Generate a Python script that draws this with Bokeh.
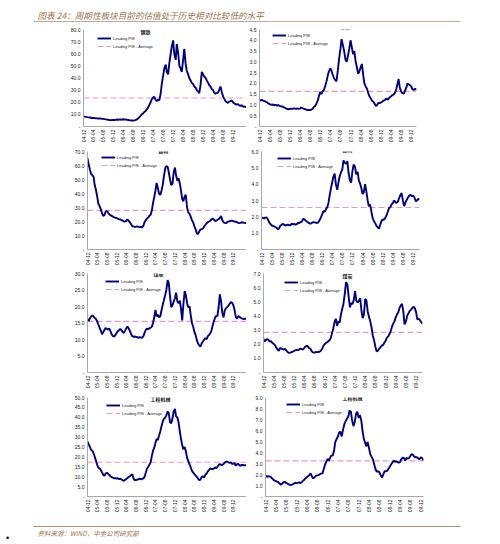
import math
import pandas as pd
from bokeh.plotting import figure
from bokeh.layouts import column, row
from bokeh.models import (Range1d, FixedTicker, DatetimeTickFormatter, NumeralTickFormatter,
                          Legend, LegendItem, Label, BoxAnnotation)
from bokeh.embed import file_html
from bokeh.resources import INLINE

# ---------------------------------------------------------------- data
header_text = "图表 24：周期性板块目前的估值处于历史相对比较低的水平"
source_text = "资料来源：WIND，中金公司研究部"
sector_names = ["钢铁", "建材", "煤炭", "工程机械"]
x_tick_labels = ["04-12", "05-04", "05-08", "05-12", "06-04", "06-08", "06-12", "07-04",
                 "07-08", "07-12", "08-04", "08-08", "08-12", "09-04", "09-08", "09-12"]
series_start = "2004-12-01"   # semi-monthly observations from here on

steel_pe = [8.3, 8.1, 7.9, 7.7, 7.5, 7.4, 7.2, 7.0, 7.0, 6.9, 6.8, 6.7, 6.6, 6.7, 6.5, 6.4, 6.3, 6.1, 5.9, 5.7, 5.6, 5.4, 5.3, 5.4,
            5.5, 5.4, 5.6, 5.8, 5.5, 5.9, 5.6, 5.8, 6.0, 5.7, 5.9, 5.6, 5.4, 5.2, 5.0, 4.9, 4.9, 5.1, 5.4, 5.9, 6.8, 7.8, 9.0, 10.2,
            11.0, 12.0, 13.0, 14.5, 16.0, 18.0, 20.0, 22.5, 24.0, 24.5, 22.0, 21.0, 22.0, 21.5, 27.0, 35.0, 42.0, 48.0, 51.0, 45.0, 43.0, 52.0, 60.0, 66.0,
            71.0, 60.0, 55.0, 68.0, 60.0, 50.0, 48.0, 45.0, 55.0, 64.0, 52.0, 46.0, 43.0, 40.0, 38.0, 36.0, 35.0, 33.0, 32.0, 30.0, 29.0, 27.5, 35.0, 45.0,
            43.0, 41.0, 40.0, 38.0, 36.0, 34.0, 33.0, 31.0, 30.0, 28.0, 27.0, 27.5, 28.0, 30.0, 33.0, 29.0, 25.0, 23.0, 21.0, 20.0, 19.5, 20.5, 21.0, 21.5,
            20.0, 19.0, 18.5, 18.0, 18.5, 17.5, 17.0, 17.5, 16.5, 16.5, 16.0, 16.5]
steel_pb = [1.20, 1.22, 1.23, 1.20, 1.18, 1.15, 1.12, 1.08, 1.04, 1.02, 1.00, 1.02, 0.98, 1.00, 0.97, 0.99, 0.96, 0.94, 0.93, 0.90, 0.87, 0.84, 0.81, 0.80,
            0.82, 0.83, 0.82, 0.84, 0.83, 0.82, 0.84, 0.82, 0.83, 0.88, 0.85, 0.83, 0.81, 0.78, 0.76, 0.77, 0.76, 0.78, 0.82, 0.90, 0.95, 1.05, 1.20, 1.40,
            1.60, 1.50, 1.65, 1.70, 1.90, 2.10, 2.35, 2.55, 2.70, 2.60, 2.40, 2.25, 2.15, 2.10, 2.60, 3.10, 3.60, 4.05, 3.75, 3.50, 3.10, 3.00, 3.30, 3.60,
            4.00, 3.70, 3.35, 3.50, 3.00, 2.75, 2.45, 2.55, 2.75, 2.90, 2.40, 2.00, 1.85, 1.75, 1.55, 1.40, 1.30, 1.20, 1.15, 1.05, 0.95, 1.00, 1.10, 1.08,
            1.12, 1.15, 1.20, 1.22, 1.30, 1.25, 1.28, 1.35, 1.40, 1.45, 1.48, 1.55, 1.70, 1.95, 2.20, 1.80, 1.62, 1.55, 1.52, 1.65, 1.80, 2.00, 1.95, 1.92,
            1.85, 1.72, 1.70, 1.75, 1.70]
building_pe = [65, 61, 57, 54, 53, 52, 46, 43, 38, 33, 31, 29, 26, 24, 24.5, 27, 27.5, 26.5, 25, 24.5, 24, 23.5, 23, 22.7,
               22.5, 22, 21.5, 21.5, 21, 20.5, 20, 20, 20.5, 21.5, 20.5, 19.5, 18, 16.5, 16.5, 16.2, 16.3, 16.5, 16.2, 16.0, 16.2, 15.8, 17, 19.5,
               21, 22, 23, 24, 25, 28, 33, 37, 42, 47.5, 44, 40, 39, 42, 46, 52, 58, 59.5, 59, 55, 50, 46, 47, 55,
               58.5, 53, 49, 51, 47, 42, 36, 34.5, 38, 39, 30, 26.5, 25.5, 23.5, 21, 19.5, 16.5, 14.5, 11.5, 11, 13, 14.2, 14.5, 15,
               16.5, 17.5, 18.8, 19.5, 20, 20.5, 21.5, 22, 21.5, 20.5, 20.5, 21, 21.8, 22.5, 24, 21, 19.5, 19, 18.8, 19.5, 20, 20.2, 20.5, 20.5,
               20.3, 20, 19.8, 19.5, 19, 18.8, 19, 19.5, 19.3, 19, 18.8, 19.2]
building_pb = [1.98, 1.93, 1.90, 1.95, 1.96, 1.85, 1.70, 1.58, 1.48, 1.45, 1.42, 1.38, 1.33, 1.22, 1.30, 1.45, 1.52, 1.57, 1.50, 1.47, 1.50, 1.53, 1.48, 1.50,
               1.58, 1.54, 1.56, 1.52, 1.55, 1.64, 1.62, 1.68, 1.70, 1.88, 1.85, 1.78, 1.70, 1.66, 1.60, 1.58, 1.64, 1.68, 1.66, 1.65, 1.62, 1.66, 1.80, 1.95,
               2.15, 2.35, 2.30, 2.45, 2.60, 2.85, 3.30, 3.70, 4.10, 4.46, 4.65, 4.00, 3.65, 4.10, 4.50, 4.70, 4.90, 5.45, 5.30, 5.25, 5.40, 4.70, 4.20, 4.10,
               4.80, 5.20, 5.05, 4.60, 4.75, 4.25, 4.05, 3.80, 3.40, 3.50, 4.00, 3.60, 3.00, 2.65, 2.75, 2.35, 1.90, 1.75, 1.60, 1.45, 1.35, 1.28, 1.55, 1.75,
               1.85, 1.82, 1.95, 2.10, 2.35, 2.55, 2.60, 2.75, 2.85, 3.00, 2.90, 2.85, 2.95, 3.15, 3.35, 3.45, 2.95, 2.65, 2.90, 3.05, 3.20, 3.30, 3.35, 3.25,
               3.30, 3.20, 2.95, 3.00, 3.10, 3.05]
coal_pe = [16.3, 15.6, 16.4, 17.0, 17.3, 17.0, 16.5, 16.3, 15.5, 14.6, 13.6, 12.8, 11.6, 12.2, 12.9, 13.5, 13.2, 13.0, 13.3, 12.5, 11.5, 11.0, 10.9, 11.4,
           12.0, 12.5, 12.8, 13.2, 12.8, 12.2, 12.0, 12.6, 13.4, 13.9, 13.4, 12.6, 11.6, 11.0, 10.8, 10.9, 10.8, 10.7, 10.5, 10.7, 10.6, 10.5, 11.0, 12.0,
           12.9, 13.3, 13.1, 13.4, 13.6, 13.9, 15.0, 16.5, 19.0, 17.0, 17.5, 16.8, 17.0, 18.8, 20.5, 21.8, 23.5, 25.0, 28.0, 27.0, 23.0, 19.8, 20.4, 21.5,
           22.5, 24.2, 21.5, 21.0, 21.8, 19.2, 15.8, 20.5, 24.7, 23.5, 21.0, 19.8, 20.0, 17.5, 15.0, 14.0, 12.3, 11.4, 9.8, 8.8, 8.2, 7.8, 8.9, 9.4,
           10.0, 10.4, 10.1, 11.0, 11.4, 11.9, 12.6, 14.0, 15.5, 16.5, 17.2, 17.0, 20.0, 23.7, 21.5, 18.2, 16.7, 18.8, 19.5, 19.8, 20.2, 20.8, 21.3, 21.2,
           20.4, 19.2, 16.8, 16.3, 17.1, 16.9, 16.6, 16.4, 16.3, 16.2, 16.4, 16.1]
coal_pb = [2.38, 2.20, 2.30, 2.36, 2.30, 2.18, 2.22, 2.10, 2.03, 1.95, 1.78, 1.65, 1.52, 1.72, 1.70, 1.66, 1.62, 1.68, 1.55, 1.45, 1.39, 1.40, 1.43, 1.47,
           1.52, 1.57, 1.60, 1.58, 1.62, 1.70, 1.65, 1.62, 1.72, 1.82, 1.90, 1.85, 1.72, 1.68, 1.50, 1.42, 1.40, 1.45, 1.44, 1.45, 1.46, 1.52, 1.66, 1.85,
           2.00, 2.08, 2.14, 2.20, 2.30, 2.45, 2.80, 3.10, 3.60, 3.80, 3.30, 3.60, 3.55, 4.10, 4.50, 4.85, 5.60, 6.40, 6.20, 5.40, 4.60, 4.90, 4.85, 5.10,
           5.75, 5.10, 4.95, 5.05, 5.25, 4.40, 3.85, 4.05, 5.20, 5.10, 4.30, 3.95, 3.60, 3.20, 2.60, 2.30, 1.80, 1.50, 1.55, 1.68, 1.80, 1.90, 1.95, 2.10,
           2.25, 2.45, 2.55, 2.70, 2.95, 3.25, 3.45, 3.60, 3.90, 4.10, 4.25, 4.55, 4.75, 4.85, 4.30, 3.40, 3.60, 4.00, 4.20, 4.35, 4.45, 4.55, 4.65, 4.55,
           4.25, 3.75, 3.80, 3.70, 3.55, 3.45]
machinery_pe = [27.7, 26.5, 25.0, 23.5, 23.1, 21.8, 20.2, 18.3, 16.0, 14.7, 14.2, 13.5, 12.2, 11.0, 10.4, 11.6, 12.0, 11.5, 10.9, 10.2, 9.8, 9.5, 9.2, 9.3,
                9.1, 9.2, 8.8, 9.0, 8.6, 8.2, 7.9, 8.4, 8.8, 9.3, 9.8, 10.2, 10.8, 11.2, 9.0, 8.3, 8.3, 8.5, 8.7, 9.0, 8.7, 8.9, 9.2, 9.9,
                12.0, 14.0, 15.0, 16.0, 17.5, 20.5, 23.0, 24.4, 27.0, 29.0, 28.5, 30.5, 33.0, 35.5, 37.8, 39.2, 39.8, 41.0, 43.0, 42.0, 37.5, 37.0, 39.5, 43.0,
                44.2, 40.5, 39.8, 37.5, 32.7, 29.0, 26.0, 23.8, 25.0, 23.0, 19.5, 18.0, 16.2, 14.8, 12.9, 12.2, 11.3, 10.6, 9.9, 9.0, 8.2, 8.5, 10.0, 10.2,
                9.5, 10.9, 11.6, 12.7, 13.5, 14.2, 14.0, 13.8, 14.1, 14.7, 14.3, 15.0, 15.9, 16.4, 16.0, 15.9, 16.4, 17.1, 17.5, 17.7, 17.3, 17.0, 17.2, 16.5,
                16.5, 16.9, 15.5, 16.3, 16.5, 15.8, 15.5, 16.0, 15.9, 15.7, 15.8, 15.5]
machinery_pb = [1.88, 1.80, 1.84, 1.82, 1.78, 1.66, 1.55, 1.46, 1.40, 1.34, 1.30, 1.18, 1.08, 1.18, 1.30, 1.33, 1.24, 1.18, 1.10, 1.05, 1.06, 1.10, 1.18, 1.25,
                1.22, 1.24, 1.28, 1.22, 1.32, 1.42, 1.52, 1.64, 1.76, 1.85, 1.95, 2.10, 1.80, 1.65, 1.75, 1.88, 1.92, 1.94, 2.02, 2.08, 2.10, 2.45, 2.90, 3.15,
                3.42, 3.25, 3.55, 3.72, 3.75, 4.20, 4.95, 5.20, 5.45, 5.80, 5.90, 5.45, 6.10, 6.55, 6.85, 7.05, 7.25, 7.80, 7.70, 6.90, 6.40, 6.75, 7.55, 7.70,
                7.15, 7.40, 6.90, 6.00, 5.20, 4.90, 4.55, 4.95, 4.40, 3.85, 3.60, 3.40, 2.90, 2.50, 2.25, 2.30, 2.20, 1.95, 1.72, 2.00, 2.30, 2.28, 2.35, 2.53,
                2.70, 2.90, 3.10, 3.25, 3.15, 3.20, 3.15, 3.08, 3.15, 3.40, 3.52, 3.50, 3.28, 3.50, 3.45, 3.50, 3.70, 3.85, 3.78, 3.62, 3.55, 3.58, 3.45, 3.40,
                3.55, 3.50, 3.28]

# long-run averages of each valuation series
average_pe = {"钢铁": 23.5, "建材": 28.0, "煤炭": 15.5, "工程机械": 17.3}
average_pb = {"钢铁": 1.63, "建材": 2.57, "煤炭": 2.84, "工程机械": 3.24}

# y-axis tick values per panel
steel_pe_ticks = [0, 10, 20, 30, 40, 50, 60, 70, 80]
steel_pb_ticks = [0, 0.5, 1.0, 1.5, 2.0, 2.5, 3.0, 3.5, 4.0, 4.5]
building_pe_ticks = [0, 10, 20, 30, 40, 50, 60, 70]
building_pb_ticks = [0, 1, 2, 3, 4, 5, 6]
coal_pe_ticks = [0, 5, 10, 15, 20, 25, 30]
coal_pb_ticks = [0, 1, 2, 3, 4, 5, 6, 7]
machinery_pe_ticks = [0, 5, 10, 15, 20, 25, 30, 35, 40, 45, 50]
machinery_pb_ticks = [0, 1, 2, 3, 4, 5, 6, 7, 8, 9]

# ---------------------------------------------------------------- style
NAVY = "#000080"
PINK = "#e79ac8"
BROWN = "#9a7350"
AXIS_GREY = "#a8a8a8"
LATIN = "Liberation Sans"
CJK = "Noto Sans CJK SC"

tick_ms = [pd.Timestamp("20" + s + "-01").value / 1e6 for s in x_tick_labels]


def panel(vals, avg, metric, title, yticks, w, h, left, right, top, bottom, leg_pos, title_pos):
    dates = pd.date_range(series_start, periods=len(vals), freq="SMS")
    p = figure(width=w, height=h, x_axis_type="datetime", output_backend="svg",
               toolbar_location=None, title=None,
               x_range=Range1d(dates[0], dates[-1]), y_range=Range1d(0, yticks[-1]),
               min_border_left=left, min_border_right=right,
               min_border_top=top, min_border_bottom=bottom)
    p.outline_line_color = None
    p.xgrid.visible = False
    p.ygrid.visible = False
    p.background_fill_color = "white"
    p.border_fill_color = "white"

    r_avg = p.line(x=[dates[0], dates[-1]], y=[avg, avg], line_color=PINK,
                   line_width=1.2, line_dash="6 3")
    r_main = p.line(x=dates, y=vals, line_color=NAVY, line_width=1.9, line_join="bevel")

    for ax in (p.xaxis[0], p.yaxis[0]):
        ax.axis_line_color = AXIS_GREY
        ax.axis_line_width = 1
        ax.major_tick_in = 0
        ax.major_tick_out = 0
        ax.minor_tick_in = 0
        ax.minor_tick_out = 0
        ax.major_tick_line_color = None
        ax.minor_tick_line_color = None
        ax.major_label_text_font = LATIN
        ax.major_label_text_font_size = "5px"
        ax.major_label_text_color = "#222222"
        ax.major_label_standoff = 3

    p.yaxis.ticker = FixedTicker(ticks=yticks)
    p.yaxis.formatter = NumeralTickFormatter(format="0.0")
    p.yaxis.major_label_overrides = {0: "-"}

    p.xaxis.ticker = FixedTicker(ticks=tick_ms)
    p.xaxis.formatter = DatetimeTickFormatter(days="%y-%m", months="%y-%m", years="%y-%m")
    p.xaxis.major_label_orientation = math.pi / 2

    fh = h - top - bottom
    leg = Legend(items=[LegendItem(label="Leading " + metric, renderers=[r_main]),
                        LegendItem(label="Leading " + metric + " - Average", renderers=[r_avg])],
                 location=(leg_pos[0], fh - leg_pos[1] - 16), orientation="vertical",
                 padding=0, margin=0, spacing=0, glyph_height=8, glyph_width=14,
                 label_height=8, label_standoff=2, label_text_font=LATIN,
                 label_text_font_size="4px", label_text_color="#222222",
                 background_fill_alpha=0, border_line_alpha=0)
    p.add_layout(leg)

    p.add_layout(Label(x=title_pos[0], y=fh - title_pos[1], x_units="screen", y_units="screen",
                       text=title, text_font=CJK, text_font_size="5px", text_font_style="bold",
                       text_color="#111111", text_align="center", text_baseline="middle"))
    return p


LW, RW = 246, 254
p1 = panel(steel_pe, average_pe["钢铁"], "P/E", sector_names[0], steel_pe_ticks,
           LW, 123, 83, 0, 7, 19, (14, 5), (62, 2))
p2 = panel(steel_pb, average_pb["钢铁"], "P/B", sector_names[0], steel_pb_ticks,
           RW, 123, 11, 84, 6, 17, (13, 5), (86, 0))
p3 = panel(building_pe, average_pe["建材"], "P/E", sector_names[1], building_pe_ticks,
           LW, 123, 87, 0, 2, 19, (14, 6), (76, 3))
p4 = panel(building_pb, average_pb["建材"], "P/B", sector_names[1], building_pb_ticks,
           RW, 123, 15, 81, 6, 16, (16, 6), (86, 1))
p5 = panel(coal_pe, average_pe["煤炭"], "P/E", sector_names[2], coal_pe_ticks,
           LW, 123, 87, 0, 4, 18, (18, 6), (71, 2))
p6 = panel(coal_pb, average_pb["煤炭"], "P/B", sector_names[2], coal_pb_ticks,
           RW, 123, 17, 78, 5, 17, (21, 7), (84, 4))
p7 = panel(machinery_pe, average_pe["工程机械"], "P/E", sector_names[3], machinery_pe_ticks,
           LW, 125, 87, 0, 4, 20, (19, 6), (73, 3))
p8 = panel(machinery_pb, average_pb["工程机械"], "P/B", sector_names[3], machinery_pb_ticks,
           RW, 125, 19, 77, 6, 18, (21, 5), (87, 2))


def strip(height):
    s = figure(width=500, height=height, x_range=Range1d(0, 500), y_range=Range1d(height, 0),
               output_backend="svg", toolbar_location=None, title=None,
               x_axis_location=None, y_axis_location=None, min_border=0)
    s.outline_line_color = None
    s.xgrid.visible = False
    s.ygrid.visible = False
    s.border_fill_color = "white"
    return s


header = strip(22)
header.add_layout(Label(x=37, y=14, text=header_text, text_font=CJK, text_font_size="8.6px",
                        text_font_style="italic", text_color=BROWN, text_baseline="middle"))
header.add_layout(BoxAnnotation(left=33, right=460, top=20.5, bottom=21.3,
                                fill_color=BROWN, fill_alpha=0.8, line_color=None))

footer = strip(28)
footer.add_layout(BoxAnnotation(left=33, right=460, top=9.6, bottom=10.4,
                                fill_color=BROWN, fill_alpha=0.8, line_color=None))
footer.add_layout(Label(x=37, y=16, text=source_text, text_font=CJK, text_font_size="6.5px",
                        text_font_style="italic", text_color=BROWN, text_baseline="middle"))
footer.add_layout(Label(x=7, y=21, text="•", text_font=LATIN, text_font_size="9px",
                        text_color="#000000", text_align="center", text_baseline="middle"))

layout = column(header, row(p1, p2), row(p3, p4), row(p5, p6), row(p7, p8), footer)

open("out.html", "w").write(file_html(layout, INLINE))
